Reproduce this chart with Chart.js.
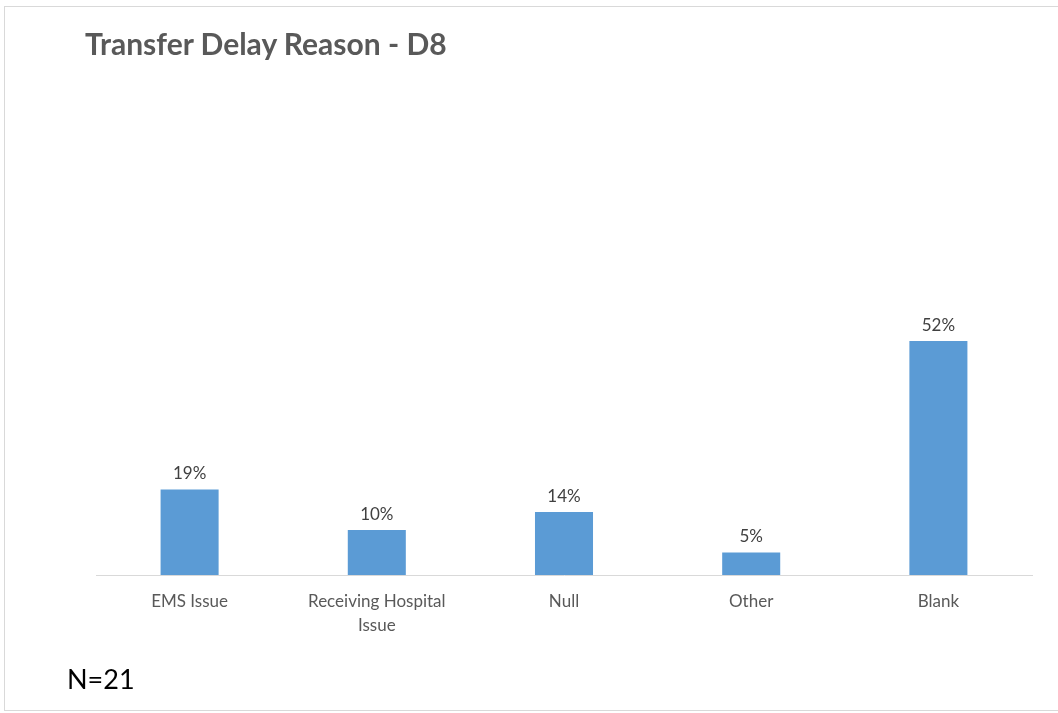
<!DOCTYPE html>
<html>
<head>
<meta charset="utf-8">
<script src="https://cdn.jsdelivr.net/npm/chart.js@4"></script>
<style>
  html, body { margin: 0; padding: 0; background: #fff; }
  #wrap { position: relative; width: 1058px; height: 713px; overflow: hidden; }
  #frame { position: absolute; left: 4px; top: 6px; width: 1060px; height: 705px; border: 1px solid #d9d9d9; box-sizing: border-box; }
  #title { position: absolute; left: 85px; top: 25px; font: bold 30px Lato, sans-serif; color: #595959; white-space: nowrap; }
  #note { position: absolute; left: 67px; top: 662px; font: 27px Lato, sans-serif; color: #000; white-space: nowrap; }
  canvas { position: absolute; left: 0; top: 0; }
</style>
</head>
<body>
<div id="wrap">
  <div id="frame"></div>
  <canvas id="delayChart" width="1058" height="713"></canvas>
  <div id="title">Transfer Delay Reason - D8</div>
  <div id="note">N=21</div>
</div>
<script>
// chart data
const categories = ['EMS Issue', ['Receiving Hospital', 'Issue'], 'Null', 'Other', 'Blank'];
const shares = [0.19, 0.10, 0.14, 0.05, 0.52];

// percent labels above each bar
const barLabels = {
    id: 'barLabels',
    afterDatasetsDraw(chart) {
        const ctx = chart.ctx;
        ctx.save();
        ctx.font = '17px Lato, sans-serif';
        ctx.fillStyle = '#404040';
        ctx.textAlign = 'center';
        ctx.textBaseline = 'bottom';
        chart.getDatasetMeta(0).data.forEach((bar, i) => {
            ctx.fillText(Math.round(shares[i] * 100) + '%', bar.x, bar.y - 7);
        });
        ctx.restore();
    }
};

new Chart(document.getElementById('delayChart'), {
    type: 'bar',
    data: {
        labels: categories,
        datasets: [{
            data: shares,
            backgroundColor: '#5b9bd5',
            barPercentage: 0.31,
            categoryPercentage: 1
        }]
    },
    options: {
        responsive: false,
        animation: false,
        layout: { padding: { left: 96, right: 26, top: 305, bottom: 0 } },
        plugins: { legend: { display: false }, tooltip: { enabled: false } },
        scales: {
            x: {
                grid: { display: false, drawTicks: false },
                border: { display: true, color: '#d9d9d9', width: 1 },
                ticks: { color: '#595959', font: { family: 'Lato', size: 17, lineHeight: 1.4 }, padding: 15, maxRotation: 0 },
                afterFit: (scale) => { scale.height = 138; }
            },
            y: { display: false, min: 0, max: 0.6 }
        }
    },
    plugins: [barLabels]
});
</script>
</body>
</html>
